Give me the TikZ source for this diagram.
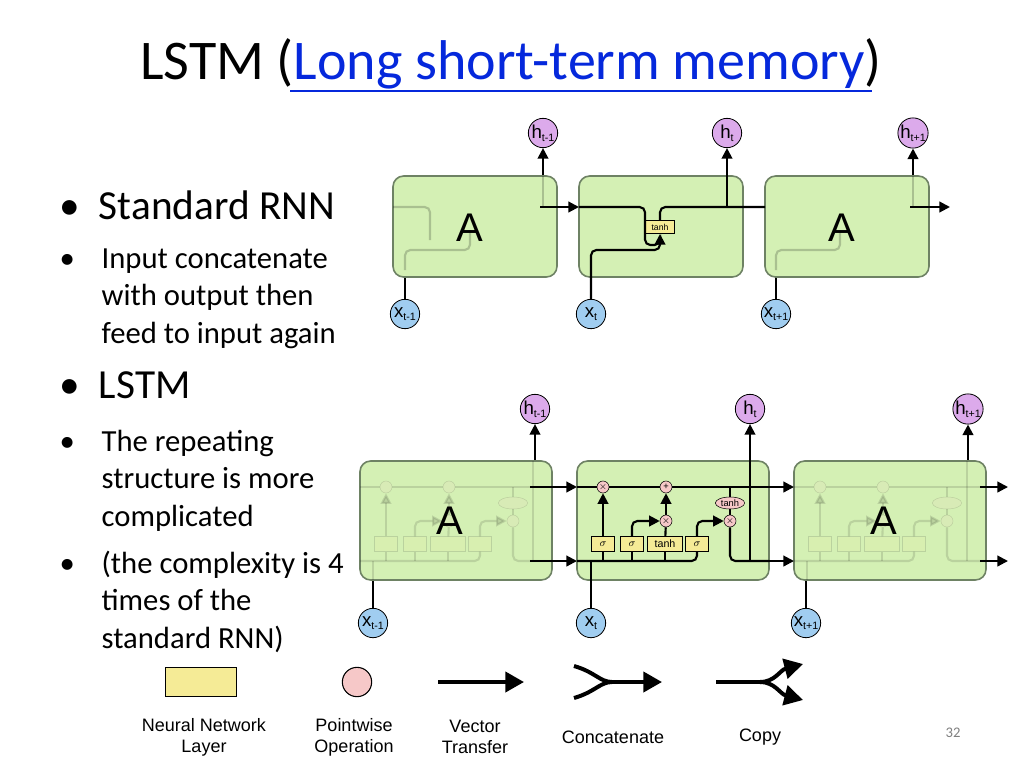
\documentclass[tikz,border=0pt]{standalone}
\usepackage{fontspec}
\setmainfont{Carlito}
\newfontfamily\lsans{Liberation Sans}
\usetikzlibrary{arrows.meta,shapes.geometric}
\definecolor{boxg}{RGB}{212,240,180}
\definecolor{boxd}{RGB}{110,130,100}
\definecolor{lay}{RGB}{245,235,150}
\definecolor{pw}{RGB}{246,200,200}
\definecolor{hc}{RGB}{220,170,235}
\definecolor{xc}{RGB}{160,205,240}
\definecolor{lnk}{RGB}{5,40,220}
\tikzset{
 cell/.style={draw=boxd,line width=1.2pt,fill=boxg,rounded corners=8pt},
 ln/.style={line width=1.6pt,black},
 ar/.style={ln,-{Triangle[length=8pt,width=8pt]}},
 hcir/.style={circle,draw=black,line width=0.6pt,fill=hc,minimum size=22pt,inner sep=0pt,font=\lsans\fontsize{14}{14}\selectfont},
 xcir/.style={circle,draw=black,line width=0.6pt,fill=xc,minimum size=22pt,inner sep=0pt,font=\lsans\fontsize{14}{14}\selectfont},
 gate/.style={draw=black,line width=0.5pt,fill=lay,minimum width=17pt,minimum height=11pt,inner sep=1pt,font=\lsans\fontsize{8}{8}\selectfont},
 pt/.style={circle,draw=black,line width=0.4pt,fill=pw,minimum size=9pt,inner sep=0pt,font=\lsans\fontsize{7}{7}\selectfont},
 bigA/.style={font=\lsans\fontsize{30}{30}\selectfont},
 lab/.style={font=\lsans\fontsize{13.5}{16}\selectfont,align=center},
 sb/.style={font=\lsans\fontsize{8}{8}\selectfont},
}
\newcommand\sub[1]{\raisebox{-2pt}{\fontsize{8}{8}\selectfont #1}}
% #1 prefix, #2 show text (1) or not (0)
\newcommand\lstmin[2]{%
 \ifnum#2=1 \def\tS{$\sigma$}\def\tT{tanh}\def\tX{$\times$}\def\tP{+}\else\def\tS{}\def\tT{}\def\tX{}\def\tP{}\fi
 \node[pt] (#1m1) at (26,487) {\tX};
 \node[pt] (#1p) at (89,487) {\tP};
 \node[gate] (#1g1) at (26,544) {\tS};
 \node[gate] (#1g2) at (55,544) {\tS};
 \node[gate,minimum width=26pt] (#1g3) at (88,544) {\tT};
 \node[gate] (#1g4) at (120,544) {\tS};
 \node[pt] (#1m2) at (89,521) {\tX};
 \node[pt] (#1m3) at (153,521) {\tX};
 \node[ellipse,draw=black,line width=0.4pt,fill=pw,inner sep=0.5pt,minimum width=22pt,minimum height=9pt,font=\lsans\fontsize{7}{7}\selectfont] (#1th) at (153,503) {\tT};
 \coordinate (#1L) at (0,487); \coordinate (#1R) at (192,487);
 \coordinate (#1bl) at (0,561);
 \draw[ln] (#1L) -- (#1m1) -- (#1p) -- (#1R);
 \draw[ln,rounded corners=4pt] (#1bl) -- (120,561) -- (#1g4);
 \draw[ln] (26,561) -- (#1g1); \draw[ln] (55,561) -- (#1g2); \draw[ln] (88,561) -- (#1g3);
 \draw[ar] (#1g1) -- (#1m1);
 \draw[ar,rounded corners=4pt] (#1g2) |- (#1m2);
 \draw[ln] (#1g3) -- (#1m2);
 \draw[ar] (#1m2) -- (#1p);
 \draw[ar,rounded corners=4pt] (#1g4) |- (#1m3);
 \draw[ln] (153,487) -- (#1th); \draw[ln] (#1th) -- (#1m3);
 \draw[ln,rounded corners=4pt] (#1m3) -- (153,561) -- (192,561);
}
\begin{document}
\begin{tikzpicture}[x=0.75pt,y=-0.75pt]
\useasboundingbox (0,0) rectangle (1024,768);
\fill[white] (0,0) rectangle (1024,768);
% title
\node[anchor=center,font=\fontsize{42}{46}\selectfont] (title) at (511,64) {LSTM (\textcolor{lnk}{Long short-term memory})};
\draw[lnk,line width=1.5pt] (290,91) -- (872,91);
% bullets
\node[anchor=north west,align=left,font=\fontsize{31}{34}\selectfont] (b1) at (55,186) {\textbullet\hspace{14pt}Standard RNN};
\node[anchor=north west,align=left,font=\fontsize{23}{28.2}\selectfont] (b2) at (55,244) {\textbullet\hspace{20pt}\parbox[t]{230pt}{Input concatenate\\with output then\\feed to input again}};
\node[anchor=north west,align=left,font=\fontsize{31}{34}\selectfont] (b3) at (55,367) {\textbullet\hspace{14pt}LSTM};
\node[anchor=north west,align=left,font=\fontsize{23}{28.2}\selectfont] (b4) at (55,425) {\textbullet\hspace{20pt}\parbox[t]{230pt}{The repeating\\structure is more\\complicated}};
\node[anchor=north west,align=left,font=\fontsize{23}{28.2}\selectfont] (b5) at (55,546) {\textbullet\hspace{20pt}\parbox[t]{230pt}{(the complexity is 4\\times of the\\standard RNN)}};
% ===== RNN row
\node[hcir] (h1) at (543,133) {h\sub{t-1}};
\node[hcir] (h2) at (727,133) {h\sub{t}};
\node[hcir] (h3) at (913,133) {h\sub{t+1}};
\node[xcir] (x1) at (405,314) {x\sub{t-1}};
\node[xcir] (x2) at (591,314) {x\sub{t}};
\node[xcir] (x3) at (776,314) {x\sub{t+1}};
\draw[ln] (x1) -- (405,270); \draw[ln] (x3) -- (776,270);
\draw[ar] (543,185) -- (h1); \draw[ar] (913,185) -- (h3);
\draw[cell] (393,176) rectangle (557,277);
\draw[cell] (579,176) rectangle (743,277);
\draw[cell] (765,176) rectangle (929,277);
\begin{scope}[opacity=0.2]
\draw[ln,rounded corners=4pt] (405,270) -- (405,250) -- (470,250) -- (470,230);
\draw[ln,rounded corners=4pt] (393,207) -- (430,207) -- (430,240);
\draw[ln] (543,176) -- (543,207);
\draw[ln,rounded corners=4pt] (776,270) -- (776,250) -- (840,250) -- (840,230);
\draw[ln] (913,176) -- (913,207);
\end{scope}
\node[bigA] (A1) at (470,228) {A};
\node[bigA] (A3) at (842,228) {A};
\draw[ar] (540,207) -- (579,207);
\draw[ar] (910,207) -- (950,207);
\node[gate,minimum width=22pt,minimum height=10pt,font=\lsans\fontsize{6.5}{6.5}\selectfont] (tn) at (660,227) {tanh};
\draw[ar,rounded corners=4pt] (579,207) -- (645,207) -- (645,245) -- (660,245) -- (tn);
\draw[ln,rounded corners=4pt] (x2) -- (591,250) -- (660,250) -- (660,245);
\draw[ln,rounded corners=4pt] (tn) -- (660,207) -- (765,207);
\draw[ar] (727,207) -- (h2);
% ===== LSTM row
\node[hcir] (H1) at (535,409) {h\sub{t-1}};
\node[hcir] (H2) at (750,409) {h\sub{t}};
\node[hcir] (H3) at (968,409) {h\sub{t+1}};
\node[xcir] (X1) at (373,623) {x\sub{t-1}};
\node[xcir] (X2) at (591,623) {x\sub{t}};
\node[xcir] (X3) at (806,623) {x\sub{t+1}};
\draw[ln] (X1) -- (373,575); \draw[ln] (X3) -- (806,575);
\draw[ar] (535,470) -- (H1); \draw[ar] (968,470) -- (H3);
\draw[cell] (360,461) rectangle (552,580);
\draw[cell] (577,461) rectangle (769,580);
\draw[cell] (794,461) rectangle (986,580);
\begin{scope}[shift={(360,0)},opacity=0.12]\lstmin{a}{0}\draw[ln] (173,461)--(173,561);\draw[ln](13,561)--(13,580);\end{scope}
\begin{scope}[shift={(794,0)},opacity=0.12]\lstmin{c}{0}\draw[ln] (173,461)--(173,561);\draw[ln](13,561)--(13,580);\end{scope}
\node[bigA] (A4) at (450,521) {A};
\node[bigA] (A6) at (884,521) {A};
\begin{scope}[shift={(577,0)}]\lstmin{b}{1}\end{scope}
\draw[ln,rounded corners=4pt] (X2) -- (591,561);
\draw[ar] (H2|-0,561) -- (H2);
\draw[ar] (530,487) -- (577,487);
\draw[ar] (530,561) -- (577,561);
\draw[ar] (769,487) -- (794,487);
\draw[ar] (769,561) -- (794,561);
\draw[ar] (980,487) -- (1008,487);
\draw[ar] (980,561) -- (1008,561);
% ===== legend
\node[draw=black,line width=0.8pt,fill=lay,minimum width=53pt,minimum height=22pt] (Lg) at (201,682) {};
\node[circle,draw=black,line width=0.8pt,fill=pw,minimum size=22pt] (Lp) at (357,682) {};
\coordinate (va) at (438,682); \coordinate (vb) at (524,682);
\draw[line width=3pt,-{Triangle[length=14pt,width=15pt]}] (va) -- (vb);
\coordinate (ca) at (574,666); \coordinate (cb) at (574,698); \coordinate (cm) at (612,682); \coordinate (ce) at (662,682);
\draw[line width=3pt] (ca) .. controls (595,672) and (600,682) .. (cm) .. controls (600,682) and (595,692) .. (cb);
\draw[line width=3pt,-{Triangle[length=14pt,width=15pt]}] (cm) -- (ce);
\coordinate (pa) at (716,682); \coordinate (pm) at (760,682); \coordinate (pu) at (803,664); \coordinate (pd) at (803,700);
\draw[line width=3pt] (pa) -- (pm);
\draw[line width=3pt,-{Triangle[length=14pt,width=15pt]}] (pm) .. controls (775,682) and (780,670) .. (pu);
\draw[line width=3pt,-{Triangle[length=14pt,width=15pt]}] (pm) .. controls (775,682) and (780,694) .. (pd);
\node[lab] (l1) at (204,737) {Neural Network\\Layer};
\node[lab] (l2) at (354,737) {Pointwise\\Operation};
\node[lab] (l3) at (475,737) {Vector\\Transfer};
\node[lab] (l4) at (613,737) {Concatenate};
\node[lab] (l5) at (760,737) {Copy};
\node[font=\fontsize{11}{11}\selectfont,text=gray] (pg) at (953,733) {32};
\end{tikzpicture}
\end{document}
